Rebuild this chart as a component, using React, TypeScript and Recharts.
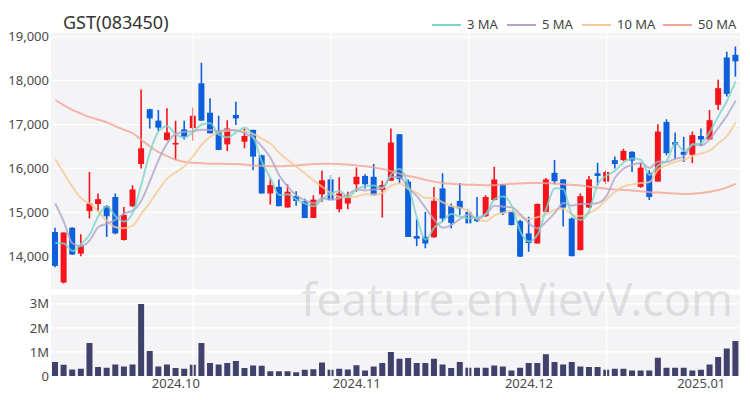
import { ComposedChart, Bar, Line, XAxis, YAxis, CartesianGrid, ReferenceLine } from "recharts";

const FONT = "'Noto Sans', sans-serif";
const RED = "#f5141c";
const BLUE = "#0d5fdc";

const dates = [
  "2024-09-06", "2024-09-09", "2024-09-10", "2024-09-11", "2024-09-12", "2024-09-13", "2024-09-19", "2024-09-20",
  "2024-09-23", "2024-09-24", "2024-09-25", "2024-09-26", "2024-09-27", "2024-09-30",
  "2024-10-02", "2024-10-04", "2024-10-07", "2024-10-08", "2024-10-10", "2024-10-11", "2024-10-14", "2024-10-15",
  "2024-10-16", "2024-10-17", "2024-10-18", "2024-10-21", "2024-10-22", "2024-10-23", "2024-10-24", "2024-10-25",
  "2024-10-28", "2024-10-29", "2024-10-30", "2024-10-31",
  "2024-11-01", "2024-11-04", "2024-11-05", "2024-11-06", "2024-11-07", "2024-11-08", "2024-11-11", "2024-11-12",
  "2024-11-13", "2024-11-14", "2024-11-15", "2024-11-18", "2024-11-19", "2024-11-20", "2024-11-21", "2024-11-22",
  "2024-11-25", "2024-11-26", "2024-11-27", "2024-11-28", "2024-11-29",
  "2024-12-02", "2024-12-03", "2024-12-04", "2024-12-05", "2024-12-06", "2024-12-09", "2024-12-10", "2024-12-11",
  "2024-12-12", "2024-12-13", "2024-12-16", "2024-12-17", "2024-12-18", "2024-12-19", "2024-12-20", "2024-12-23",
  "2024-12-24", "2024-12-26", "2024-12-27", "2024-12-30",
  "2025-01-02", "2025-01-03", "2025-01-06", "2025-01-07", "2025-01-08",
];

const opens = [
  14550, 13400, 14650, 14060, 15030, 15190, 15140, 15350, 14370, 15140,
  16100, 17350, 17090, 16650, 16550, 16890, 16920, 17940, 17270, 16840,
  16550, 17220, 16610, 16880, 16300, 15430, 15580, 15110, 15370, 15250,
  14870, 15410, 15750, 15070, 15200, 15640, 15830, 15810, 15510, 15720,
  16780, 15700, 14460, 14440, 14430, 15545, 15140, 15260, 15010, 14860,
  14910, 15280, 15640, 15010, 14800, 14520, 14290, 15010, 15900, 15750,
  14860, 14140, 15110, 15890, 15700, 16190, 16190, 16380, 15580, 15900,
  15700, 17060, 16600, 16380, 16310, 16740, 16660, 17450, 18530, 18590,
];
const highs = [
  14650, 14540, 14660, 14500, 15920, 15430, 15160, 15430, 15120, 15620,
  17800, 17360, 17330, 17370, 17090, 17090, 17390, 18410, 17600, 17200,
  17100, 17520, 16910, 16880, 16310, 15770, 15750, 15640, 15480, 15310,
  15390, 15950, 15850, 15800, 15470, 16020, 15870, 16100, 15720, 16910,
  16780, 15750, 14840, 15010, 15580, 15890, 15200, 15670, 15090, 15350,
  15390, 16040, 15640, 15010, 14830, 14900, 15200, 15780, 16190, 15760,
  14880, 15430, 15830, 16130, 15960, 16270, 16450, 16390, 16130, 15960,
  17010, 17120, 16820, 16720, 16840, 16910, 17330, 18020, 18660, 18780,
];
const lows = [
  13750, 13380, 14030, 14000, 14860, 15030, 14440, 14500, 14360, 15120,
  16000, 16910, 16850, 16640, 16190, 16660, 16630, 17090, 16800, 16420,
  16400, 16990, 16460, 15960, 15430, 15180, 15140, 15110, 15150, 14870,
  14870, 15240, 15280, 15000, 15070, 15470, 15545, 15390, 14880, 15720,
  15660, 14440, 14230, 14180, 14420, 14780, 14630, 14940, 14740, 14780,
  14900, 15270, 14940, 14700, 13980, 14100, 14290, 15000, 15640, 14680,
  14000, 14130, 15100, 15620, 15640, 16000, 16170, 15920, 15560, 15280,
  15700, 16300, 16210, 16150, 16120, 16510, 16650, 17330, 17640, 18090,
];
const closes = [
  13780, 14540, 14040, 14250, 15200, 15300, 14910, 14520, 14940, 15520,
  16460, 17140, 16930, 16820, 16580, 16720, 17200, 17090, 16800, 16420,
  16910, 17140, 16740, 16270, 15430, 15620, 15140, 15470, 15260, 14870,
  15290, 15730, 15280, 15430, 15340, 15810, 15640, 15390, 15620, 16590,
  15760, 14440, 14400, 14290, 15260, 14860, 14760, 15090, 14750, 14800,
  15350, 15750, 14980, 14710, 13990, 14300, 15190, 15750, 15710, 15110,
  14000, 15370, 15750, 15830, 15920, 16100, 16400, 16180, 16020, 15350,
  16840, 16350, 16540, 16310, 16760, 16660, 17100, 17830, 17700, 18440,
];
const volumes = [
  580000, 470000, 270000, 300000, 1370000, 370000, 340000, 480000, 400000, 480000,
  2990000, 1040000, 400000, 480000, 330000, 300000, 470000, 1370000, 540000, 480000,
  540000, 620000, 330000, 440000, 430000, 200000, 200000, 200000, 160000, 260000,
  280000, 560000, 260000, 300000, 270000, 450000, 230000, 400000, 540000, 1000000,
  720000, 750000, 540000, 540000, 720000, 480000, 330000, 580000, 340000, 340000,
  340000, 440000, 400000, 230000, 340000, 540000, 540000, 900000, 580000, 480000,
  580000, 400000, 370000, 370000, 260000, 300000, 300000, 230000, 230000, 230000,
  760000, 340000, 340000, 340000, 230000, 260000, 480000, 790000, 1140000, 1460000,
];

const ma3 = [
  14300, 14290, 14120, 14277, 14497, 14917, 15137, 14910, 14790, 14993,
  15640, 16373, 16843, 16963, 16777, 16707, 16833, 17003, 17030, 16770,
  16710, 16823, 16930, 16717, 16147, 15773, 15397, 15410, 15290, 15200,
  15140, 15297, 15433, 15480, 15350, 15527, 15597, 15613, 15550, 15867,
  15990, 15597, 14867, 14377, 14650, 14803, 14960, 14903, 14867, 14880,
  14967, 15300, 15360, 15147, 14560, 14333, 14493, 15080, 15550, 15523,
  14940, 14827, 15040, 15650, 15833, 15950, 16140, 16227, 16200, 15850,
  16070, 16180, 16577, 16400, 16537, 16577, 16840, 17197, 17543, 17990,
];
const ma5 = [
  15200, 14780, 14290, 14230, 14362, 14666, 14740, 14836, 14974, 15038,
  15270, 15716, 16198, 16574, 16786, 16838, 16850, 16882, 16878, 16846,
  16884, 16872, 16802, 16696, 16498, 16240, 15840, 15586, 15384, 15272,
  15206, 15324, 15286, 15320, 15414, 15518, 15500, 15522, 15560, 15810,
  15800, 15560, 15362, 15096, 14830, 14650, 14714, 14852, 14944, 14852,
  14950, 15148, 15126, 15118, 14956, 14746, 14634, 14788, 14988, 15212,
  15152, 15188, 15188, 15212, 15374, 15794, 16000, 16086, 16124, 16010,
  16158, 16148, 16220, 16278, 16560, 16524, 16674, 16932, 17210, 17546,
];
const ma10 = [
  16210, 15890, 15580, 15320, 15200, 15010, 14800, 14660, 14640, 14700,
  14968, 15228, 15517, 15774, 15912, 16054, 16283, 16540, 16726, 16816,
  16861, 16861, 16842, 16787, 16672, 16562, 16356, 16194, 16040, 15885,
  15723, 15582, 15436, 15352, 15343, 15362, 15412, 15404, 15440, 15612,
  15659, 15530, 15442, 15328, 15320, 15225, 15137, 15107, 15020, 14841,
  14800, 14931, 14989, 15031, 14904, 14848, 14891, 14957, 15053, 15084,
  14949, 14911, 14988, 15100, 15293, 15473, 15594, 15637, 15668, 15692,
  15976, 16074, 16153, 16201, 16285, 16341, 16411, 16576, 16744, 17053,
];
const ma50 = [
  17560, 17440, 17330, 17250, 17170, 17110, 17050, 16960, 16880, 16800,
  16650, 16500, 16370, 16280, 16200, 16150, 16130, 16120, 16110, 16110,
  16100, 16100, 16090, 16070, 16060, 16050, 16050, 16060, 16070, 16090,
  16100, 16110, 16110, 16100, 16090, 16070, 16050, 16020, 15990, 15940,
  15880, 15830, 15790, 15740, 15700, 15670, 15650, 15640, 15630, 15625,
  15620, 15620, 15635, 15650, 15660, 15670, 15670, 15665, 15660, 15640,
  15625, 15610, 15585, 15560, 15540, 15520, 15510, 15500, 15480, 15460,
  15450, 15440, 15430, 15420, 15425, 15440, 15470, 15510, 15570, 15650,
];

const priceTicks = [14000, 15000, 16000, 17000, 18000, 19000];
const volumeTicks = [0, 1000000, 2000000, 3000000];
const monthTicks = ["2024-10-02", "2024-11-04", "2024-12-02", "2025-01-02"];
const gridDates = ["2024-10-07", "2024-10-30", "2024-11-21", "2024-12-13"];

const maSeries = [
  { key: "ma3", name: "3 MA", color: "#7ad4c7" },
  { key: "ma5", name: "5 MA", color: "#b0a4c9" },
  { key: "ma10", name: "10 MA", color: "#f3c995" },
  { key: "ma50", name: "50 MA", color: "#f4a292" },
];
const legendX = [[432, 467], [507, 542], [582, 617], [663, 698]];

const Candle = (props: any) => {
  const { x, y, width, height, payload } = props;
  const { open, close, high, low } = payload;
  const top = Math.min(y, y + height);
  const h = Math.abs(height);
  const k = high - low ? h / (high - low) : 0;
  const py = (v: number) => top + (high - v) * k;
  const color = close >= open ? RED : BLUE;
  const cx = x + width / 2;
  const bodyTop = py(Math.max(open, close));
  const bodyH = Math.max(1.5, Math.abs(open - close) * k);
  return (
    <g>
      <line x1={cx} x2={cx} y1={top} y2={top + h} stroke={color} strokeWidth={1.6} />
      <rect x={x} y={bodyTop} width={width} height={bodyH} fill={color} />
    </g>
  );
};

const fmtVol = (v: number) => (v === 0 ? "0" : `${v / 1000000}M`);
const fmtMonth = (d: string) => d.slice(0, 7).replace("-", ".");

export default function App() {
  const rows = dates.map((date, i) => ({
    date,
    open: opens[i],
    high: highs[i],
    low: lows[i],
    close: closes[i],
    volume: volumes[i],
    ma3: ma3[i],
    ma5: ma5[i],
    ma10: ma10[i],
    ma50: ma50[i],
  }));

  const tickStyle = { fontSize: 13, fill: "#4a4a4a", fontFamily: FONT };

  return (
    <div style={{ position: "absolute", left: 0, top: 0, width: 750, height: 400, background: "#fff", fontFamily: FONT, overflow: "hidden" }}>
      <div style={{ position: "absolute", left: 0, top: 0 }}>
        <ComposedChart width={750} height={292} data={rows} margin={{ top: 32, right: 10, bottom: 2, left: 0 }}>
          <CartesianGrid vertical={false} stroke="#ffffff" strokeWidth={1.2} fill="#f4f4f6" fillOpacity={1} />
          <XAxis dataKey="date" hide />
          <YAxis
            domain={[13230, 19110]}
            allowDataOverflow
            ticks={priceTicks}
            tickFormatter={(v: number) => v.toLocaleString("en-US")}
            width={51}
            axisLine={false}
            tickLine={false}
            tickSize={0}
            tickMargin={2}
            tick={tickStyle}
          />
          {gridDates.map((d) => (
            <ReferenceLine key={d} x={d} stroke="#ffffff" strokeWidth={1.2} />
          ))}
          <Bar dataKey={(d: any) => [d.low, d.high]} barSize={6} shape={<Candle />} isAnimationActive={false} />
          {[...maSeries].reverse().map((s) => (
            <Line
              key={s.key}
              type="monotone"
              dataKey={s.key}
              stroke={s.color}
              strokeWidth={2}
              strokeOpacity={0.78}
              dot={false}
              activeDot={false}
              isAnimationActive={false}
            />
          ))}
        </ComposedChart>
      </div>

      <div style={{ position: "absolute", left: 0, top: 294 }}>
        <ComposedChart width={750} height={106} data={rows} margin={{ top: 0, right: 10, bottom: 0, left: 0 }}>
          <CartesianGrid vertical={false} stroke="#ffffff" strokeWidth={1.2} fill="#f4f4f6" fillOpacity={1} />
          <XAxis
            dataKey="date"
            ticks={monthTicks}
            interval={0}
            tickFormatter={fmtMonth}
            height={24}
            axisLine={false}
            tickLine={false}
            tickSize={0}
            tickMargin={3}
            tick={tickStyle}
          />
          <YAxis
            domain={[0, 3410000]}
            allowDataOverflow
            ticks={volumeTicks}
            tickFormatter={fmtVol}
            width={51}
            axisLine={false}
            tickLine={false}
            tickSize={0}
            tickMargin={2}
            tick={tickStyle}
          />
          {gridDates.map((d) => (
            <ReferenceLine key={d} x={d} stroke="#ffffff" strokeWidth={1.2} />
          ))}
          <Bar dataKey="volume" barSize={6} fill="#41426b" isAnimationActive={false} />
        </ComposedChart>
      </div>

      <div style={{ position: "absolute", left: 63, top: 13, fontSize: 18, lineHeight: 1, color: "#333", whiteSpace: "nowrap" }}>
        GST(083450)
      </div>

      {maSeries.map((s, i) => (
        <div key={s.key}>
          <div style={{ position: "absolute", left: legendX[i][0], top: 24, width: 29, height: 2, background: s.color }} />
          <div style={{ position: "absolute", left: legendX[i][1], top: 18, fontSize: 13, lineHeight: 1, color: "#444", whiteSpace: "nowrap" }}>
            {s.name}
          </div>
        </div>
      ))}

      <div
        style={{
          position: "absolute",
          left: 301,
          top: 276,
          fontSize: 45,
          lineHeight: 1,
          color: "rgba(150,150,155,0.25)",
          whiteSpace: "nowrap",
          pointerEvents: "none",
        }}
      >
        feature.enVievV.com
      </div>
    </div>
  );
}
